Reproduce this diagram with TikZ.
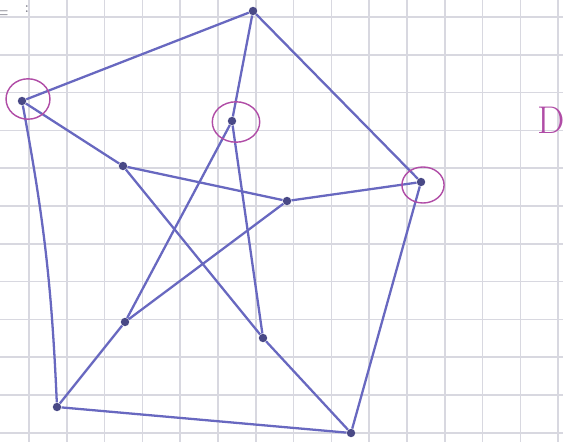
\documentclass[tikz,border=0pt]{standalone}
\usepackage{tikz}
\usetikzlibrary{shapes.geometric}
\definecolor{pen}{HTML}{6868C0}
\definecolor{marker}{HTML}{B04CA6}
\definecolor{gridline}{HTML}{D8D8E0}
\definecolor{pencil}{HTML}{7A7A86}

\begin{document}
\begin{tikzpicture}[x=0.02cm,y=-0.02cm,
  vtx/.style={circle,fill=pen!70!black,inner sep=0pt,minimum size=4.8pt},
  ring/.style={ellipse,draw=marker,line width=0.8pt,inner sep=0pt},
  edge/.style={pen,line width=1.3pt}]
  \useasboundingbox (0,0) rectangle (563,442);
  \clip (0,0) rectangle (563,442);
  \fill[white] (0,0) rectangle (563,442);
  % squared paper
  \foreach \gx in {0,...,14}
    \draw[gridline,line width=0.9pt] ({29+37.8*\gx},0) -- ({29+37.8*\gx},442);
  \foreach \gy in {0,...,11}
    \draw[gridline,line width=0.9pt] (0,{17+37.8*\gy}) -- (563,{17+37.8*\gy});
  % scribbles at the edges
  \node[pencil,font=\large] (eqmark) at (1,15) {=};
  \node[pencil,font=\small] (colon) at (27,9) {:};
  \node[marker,font=\fontsize{22}{22}\selectfont] (dmark) at (551,120) {D};
  % outer vertices
  \node[vtx] (t) at (253,11) {};
  \node[vtx] (l) at (22,101) {};
  \node[vtx] (r) at (421,182) {};
  \node[vtx] (br) at (351,433) {};
  \node[vtx] (bl) at (57,407) {};
  % inner vertices
  \node[vtx] (a) at (232,121) {};
  \node[vtx] (b) at (123,166) {};
  \node[vtx] (c) at (287,201) {};
  \node[vtx] (d) at (125,322) {};
  \node[vtx] (e) at (263,338) {};
  % outer cycle
  \draw[edge] (t) -- (l);
  \draw[edge] (t) -- (r);
  \draw[edge] (r) -- (br);
  \draw[edge] (br) -- (bl);
  \draw[edge] (bl) to[bend right=4] (l);
  % spokes
  \draw[edge] (t) -- (a);
  \draw[edge] (l) -- (b);
  \draw[edge] (r) -- (c);
  \draw[edge] (br) -- (e);
  \draw[edge] (bl) -- (d);
  % inner star
  \draw[edge] (a) -- (d);
  \draw[edge] (a) -- (e);
  \draw[edge] (b) -- (c);
  \draw[edge] (b) -- (e);
  \draw[edge] (c) -- (d);
  % marked vertices
  \node[ring,minimum width=25pt,minimum height=23pt] (ringl) at (28,99) {};
  \node[ring,minimum width=27pt,minimum height=23pt] (ringa) at (236,122) {};
  \node[ring,minimum width=24pt,minimum height=20.5pt] (ringr) at (423,185) {};
\end{tikzpicture}
\end{document}
